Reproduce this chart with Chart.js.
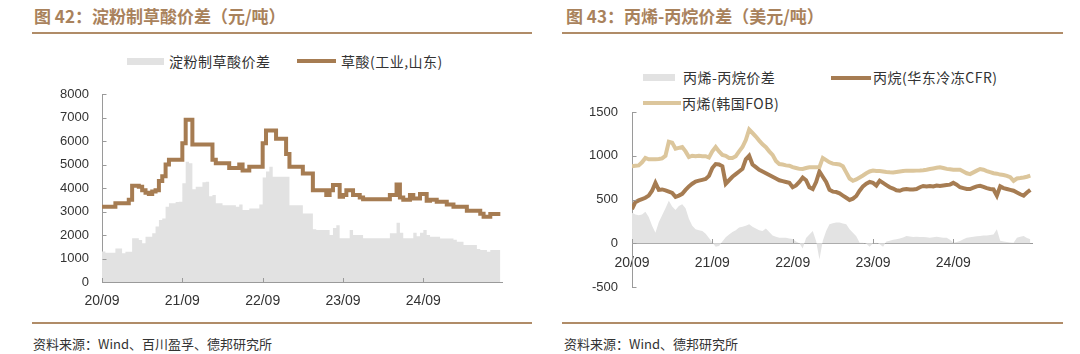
<!DOCTYPE html>
<html><head><meta charset="utf-8">
<script src="https://cdn.jsdelivr.net/npm/chart.js@4.4.1/dist/chart.umd.min.js"></script>
<style>
html,body{margin:0;padding:0;background:#fff;width:1080px;height:354px;overflow:hidden;font-family:"Noto Sans CJK SC","Noto Sans",sans-serif;}
.abs{position:absolute;}
.title{font-size:17px;font-weight:bold;color:#a9825c;white-space:nowrap;line-height:17px;}
.rule{height:2px;background:#b08c68;}
.foot{font-size:13px;color:#333;white-space:nowrap;line-height:13px;}
.lg{font-size:14px;color:#333;white-space:nowrap;line-height:14px;letter-spacing:0.5px;}
.sw{position:absolute;}
</style></head><body>
<div class="abs title" style="left:34px;top:7px;">图 42：淀粉制草酸价差（元/吨）</div>
<div class="abs rule" style="left:32px;top:32px;width:500px;"></div>
<div class="abs title" style="left:566px;top:7px;">图 43：丙烯-丙烷价差（美元/吨）</div>
<div class="abs rule" style="left:562px;top:32px;width:501px;"></div>

<div class="sw" style="left:127px;top:58px;width:37px;height:7px;background:#e2e2e2;"></div>
<div class="abs lg" style="left:169px;top:54px;">淀粉制草酸价差</div>
<div class="sw" style="left:297px;top:59px;width:39px;height:4px;background:#a67c52;"></div>
<div class="abs lg" style="left:341px;top:54px;">草酸(工业,山东)</div>

<div class="sw" style="left:643px;top:74px;width:32px;height:7px;background:#e2e2e2;"></div>
<div class="abs lg" style="left:683px;top:70px;">丙烯-丙烷价差</div>
<div class="sw" style="left:831px;top:76px;width:40px;height:4px;background:#a67c52;"></div>
<div class="abs lg" style="left:873px;top:70px;">丙烷(华东冷冻CFR)</div>
<div class="sw" style="left:643px;top:101px;width:38px;height:4px;background:#dcc69c;"></div>
<div class="abs lg" style="left:682px;top:96px;">丙烯(韩国FOB)</div>

<div class="abs" style="left:40px;top:84px;width:470px;height:232px;"><canvas id="c1" width="470" height="232"></canvas></div>
<div class="abs" style="left:570px;top:100px;width:480px;height:200px;"><canvas id="c2" width="480" height="200"></canvas></div>

<div class="abs rule" style="left:32px;top:322px;width:500px;"></div>
<div class="abs rule" style="left:562px;top:322px;width:501px;"></div>
<div class="abs foot" style="left:33px;top:337px;">资料来源：Wind、百川盈孚、德邦研究所</div>
<div class="abs foot" style="left:564px;top:337px;">资料来源：Wind、德邦研究所</div>

<script>
// ---- categories / tick labels ----
const tickLabels = ['20/09', '21/09', '22/09', '23/09', '24/09'];
const pointsPerYear = 24; // half-month sampling, starting 2020/09

// ---- Figure 42: 草酸 (工业, 山东) price, 元/吨 ----
const oxalicPrice = [
  3200,3200,3200,3200,3200,3350,3350,3350,3350,3500,
  4100,4100,4050,3900,3800,3750,3850,3900,4300,4500,
  5000,5200,5200,5200,5200,5900,6900,6900,5850,5850,
  5850,5850,5850,5850,5200,5050,5050,5050,5050,4850,
  4850,4850,5000,4750,4750,4900,4900,4900,4900,5900,
  6450,6450,6450,6100,6100,6100,5450,4900,4900,4900,
  4900,4620,4620,4620,3900,3900,3900,3900,3700,3900,
  4130,4130,3630,3700,3900,3900,3700,3700,3600,3520,
  3520,3520,3520,3520,3520,3520,3520,3700,3700,4150,
  3600,3500,3500,3700,3550,3550,3750,3750,3460,3500,
  3500,3420,3420,3420,3300,3300,3200,3200,3200,3200,
  3030,3030,3030,3030,2900,2780,2780,2890,2890,2890
];
// 淀粉制草酸价差
const starchOxalicSpread = [
  1500,1300,1250,1250,1250,1430,1430,1220,1290,1290,
  1860,1860,1790,1650,1930,1930,2070,2360,2640,2700,
  3200,3350,3350,3400,3420,4200,5120,5050,3950,4050,
  4050,4250,4270,3650,3700,3350,3350,3270,3270,3270,
  3270,3200,3300,3060,3060,3130,3130,3130,3300,4450,
  4700,4900,4480,4480,4480,4480,4480,3270,3270,3270,
  3270,2920,2920,2920,2250,2210,2210,2210,2210,2000,
  2300,2420,1860,1860,1860,2210,2000,2000,2000,1860,
  1860,1860,1860,1860,1860,1860,1860,2070,2070,2520,
  2100,1860,1860,1860,2100,1950,2100,2210,2000,1930,
  1930,1930,1850,1850,1850,1850,1800,1710,1710,1570,
  1570,1570,1570,1400,1360,1360,1290,1360,1360,1360
];

// ---- Figure 43: 美元/吨 ----
const propyleneFOB = [
  880,885,890,925,975,960,960,960,963,970,
  1000,1160,1150,1080,1090,1100,1050,985,1000,995,
  1000,995,995,980,1050,1100,1050,1010,1000,975,
  975,995,1050,1100,1180,1300,1260,1220,1173,1130,
  1097,1050,1010,940,905,900,890,887,870,860,
  850,849,860,868,868,868,870,975,950,925,
  910,906,900,880,810,740,714,730,752,775,
  800,820,830,825,825,820,815,812,810,815,
  820,825,830,830,828,830,832,835,840,848,
  855,862,868,860,850,845,840,840,840,820,
  800,790,810,830,848,840,825,812,800,795,
  785,780,770,755,714,740,745,752,760,772
];
const propaneCFR = [
  390,470,490,505,520,545,600,690,610,615,
  605,590,575,530,545,565,610,650,680,705,
  715,725,735,770,860,905,900,880,680,720,
  760,790,820,850,960,1000,900,870,840,820,
  800,780,760,740,720,710,700,690,640,660,
  700,750,720,640,620,700,820,760,700,610,
  590,585,570,545,520,495,510,540,600,650,
  680,700,690,660,715,690,665,640,625,605,
  600,615,620,615,615,620,640,655,650,655,
  650,660,655,660,665,670,690,670,640,630,
  620,620,635,650,657,645,630,620,615,545,
  650,630,620,610,600,580,560,545,580,610
];
const propSpread = [
  350,330,320,330,360,300,200,120,240,320,
  400,485,420,380,427,447,400,280,200,160,
  150,140,110,60,10,-40,-30,20,70,100,
  130,150,180,190,200,217,190,170,150,140,
  170,130,90,75,64,64,64,55,50,20,
  0,-60,60,100,140,27,-185,30,140,217,
  230,236,236,225,217,160,120,80,7,5,
  -5,-40,0,5,-10,-40,20,30,40,45,
  55,65,83,78,72,75,72,72,68,64,
  70,73,70,64,64,40,5,15,25,45,
  64,70,75,80,83,88,90,95,100,160,
  30,20,15,10,5,64,75,83,60,45
];

const xy = arr => arr.map((v, i) => ({x: i, y: v}));
const axisColor = '#9a9a9a';

const innerTicks = {
  id: 'innerTicks',
  afterDraw(chart) {
    const {ctx, scales: {x, y}} = chart;
    ctx.save();
    ctx.strokeStyle = axisColor; ctx.lineWidth = 1;
    const ax = Math.round(x.left) + 0.5;
    y.ticks.forEach(t => {
      const py = Math.round(y.getPixelForValue(t.value)) + 0.5;
      ctx.beginPath(); ctx.moveTo(ax, py); ctx.lineTo(ax + 4, py); ctx.stroke();
    });
    const base = Math.round(y.getPixelForValue(Math.max(0, y.min)));
    x.ticks.forEach(t => {
      const px = Math.round(x.getPixelForValue(t.value)) + 0.5;
      ctx.beginPath(); ctx.moveTo(px, base); ctx.lineTo(px, base - 4); ctx.stroke();
    });
    ctx.restore();
  }
};

function xScale(extra) {
  return Object.assign({
    type: 'linear', min: 0, max: 119.5,
    afterBuildTicks: s => { s.ticks = tickLabels.map((_, i) => ({ value: i * pointsPerYear })); },
    ticks: { autoSkip: false, maxRotation: 0, padding: 11, color: '#333',
      font: { family: 'Liberation Sans, Arial', size: 14 },
      callback: (v, i) => tickLabels[i] || '' },
    grid: { display: true, drawOnChartArea: false, drawTicks: false },
    border: { display: true, color: axisColor, width: 1 }
  }, extra);
}
const yFit = s => { s.width = 62; s.paddingTop = 0; s.paddingBottom = 0; };

Chart.defaults.animation = false;

new Chart(document.getElementById('c1'), {
  type: 'line',
  data: { datasets: [
    { label: '淀粉制草酸价差', data: xy(starchOxalicSpread), stepped: 'after', fill: 'origin',
      backgroundColor: '#e2e2e2', borderWidth: 0, pointRadius: 0, order: 2 },
    { label: '草酸(工业,山东)', data: xy(oxalicPrice), stepped: 'after', fill: false,
      borderColor: '#a67c52', borderWidth: 4, pointRadius: 0, order: 1 }
  ]},
  options: {
    responsive: false, animation: false,
    layout: { padding: { top: 10, right: 8, left: 0, bottom: 0 } },
    plugins: { legend: { display: false }, tooltip: { enabled: false } },
    scales: {
      x: xScale({ afterFit: s => { s.height = 34; } }),
      y: { min: 0, max: 8000,
        ticks: { stepSize: 1000, padding: 13, color: '#333', font: { family: 'Liberation Sans, Arial', size: 13 },
          callback: v => String(v) },
        grid: { display: true, drawOnChartArea: false, drawTicks: false },
        border: { display: true, color: axisColor, width: 1 },
        afterFit: yFit }
    }
  },
  plugins: [innerTicks]
});

new Chart(document.getElementById('c2'), {
  type: 'line',
  data: { datasets: [
    { label: '丙烯-丙烷价差', data: xy(propSpread), fill: 'origin',
      backgroundColor: '#e3e3e3', borderWidth: 0, pointRadius: 0, order: 3 },
    { label: '丙烷(华东冷冻CFR)', data: xy(propaneCFR), fill: false,
      borderColor: '#a67c52', borderWidth: 4, pointRadius: 0, order: 2 },
    { label: '丙烯(韩国FOB)', data: xy(propyleneFOB), fill: false,
      borderColor: '#dcc69c', borderWidth: 4, pointRadius: 0, order: 1 }
  ]},
  options: {
    responsive: false, animation: false,
    layout: { padding: { top: 12, right: 18, left: 0, bottom: 13 } },
    plugins: { legend: { display: false }, tooltip: { enabled: false } },
    scales: {
      x: xScale({ position: { y: 0 }, afterFit: s => { s.height = 0; } }),
      y: { min: -500, max: 1500,
        ticks: { stepSize: 500, padding: 14, color: '#333', font: { family: 'Liberation Sans, Arial', size: 13 },
          callback: v => String(v) },
        grid: { display: true, drawOnChartArea: false, drawTicks: false },
        border: { display: true, color: axisColor, width: 1 },
        afterFit: yFit }
    }
  },
  plugins: [innerTicks]
});
</script>
</body></html>
